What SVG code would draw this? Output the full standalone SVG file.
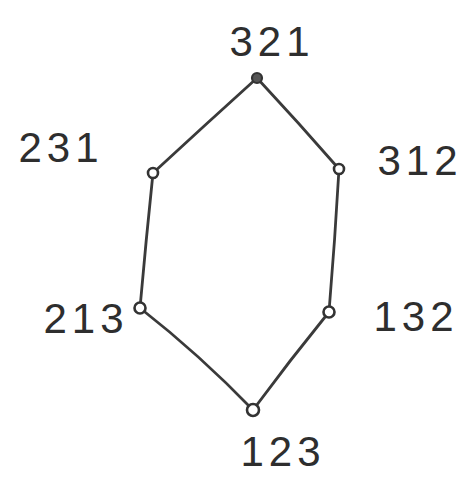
<svg xmlns="http://www.w3.org/2000/svg" width="468" height="477" viewBox="0 0 468 477">
<style>
.e{fill:none;stroke:#3a3a3a;stroke-width:2.8;stroke-linecap:round}
.n{fill:#fff;stroke:#333;stroke-width:2.6}
.f{fill:#555;stroke:#333;stroke-width:2.2}
.t{font-family:"Liberation Sans","DejaVu Sans",sans-serif;font-size:42px;fill:#2e2e2e;text-anchor:middle;letter-spacing:5px}
</style>
<rect width="468" height="477" fill="#fff"/>
<g id="edges">
<path class="e" d="M257,78 Q205,125 153,173"/>
<path class="e" d="M257,78 Q298,122 339,169"/>
<path class="e" d="M153,173 Q146,240 140,308"/>
<path class="e" d="M339,169 Q335,240 329,312"/>
<path class="e" d="M140,308 Q200,355 253,410"/>
<path class="e" d="M329,312 Q290,360 253,410"/>
</g>
<g id="n321"><circle class="f" cx="257" cy="78" r="5"/><text class="t" x="272" y="56">321</text></g>
<g id="n231"><circle class="n" cx="153" cy="173" r="5"/><text class="t" x="61" y="162">231</text></g>
<g id="n312"><circle class="n" cx="339" cy="169" r="5"/><text class="t" x="420" y="175">312</text></g>
<g id="n213"><circle class="n" cx="140" cy="308" r="5.5"/><text class="t" x="86" y="333">213</text></g>
<g id="n132"><circle class="n" cx="329" cy="312" r="5.5"/><text class="t" x="416" y="331">132</text></g>
<g id="n123"><circle class="n" cx="253" cy="410" r="6"/><text class="t" x="283" y="466">123</text></g>
</svg>
